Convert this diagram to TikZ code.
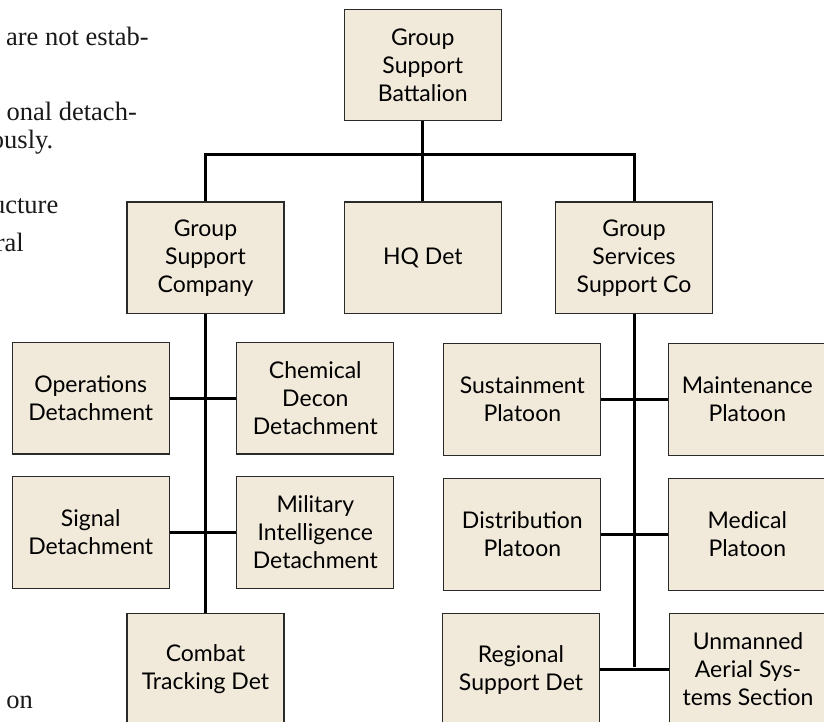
\documentclass[tikz,border=0pt]{standalone}
\usepackage{fontspec}
\newfontfamily\boxfam{Lato}
\newfontfamily\textfam{Liberation Serif}
\definecolor{boxfill}{HTML}{F1E9DA}
\definecolor{boxline}{HTML}{2A2A2A}
\begin{document}
\begin{tikzpicture}[x=1pt,y=-1pt,
  box/.style={draw=boxline, fill=boxfill, line width=1.1pt, minimum width=157pt,
    minimum height=111.5pt, align=center, inner sep=0pt,
    font=\boxfam\fontsize{23}{28}\selectfont},
  link/.style={line width=3pt, black},
  pagetext/.style={anchor=base east, inner sep=0pt, font=\textfam\fontsize{26.5}{28}\selectfont, text=black!90}]
\useasboundingbox (0,0) rectangle (824,722);
\clip (0,0) rectangle (824,722);
% page text cut off at left
\node[pagetext] (t1) at (149,46) {are not estab-};
\node[pagetext] (t2) at (137,120.5) {onal detach-};
\node[pagetext] (t3) at (53.5,148.5) {ously.};
\node[pagetext] (t4) at (58.5,213.5) {ucture};
\node[pagetext] (t5) at (24,251) {ral};
\node[pagetext] (t6) at (33,708) {on};
% boxes
\node[box] (gsb) at (422.75,65) {Group\\Support\\Battalion};
\node[box] (gsc) at (205.5,257.75) {Group\\Support\\Company};
\node[box] (hq) at (422.75,257.75) {HQ Det};
\node[box] (gssc) at (634,257.75) {Group\\Services\\Support Co};
\node[box] (ops) at (90.7,398.2) {Operations\\Detachment};
\node[box] (chem) at (315.3,398.2) {Chemical\\Decon\\Detachment};
\node[box] (sig) at (90.7,532.5) {Signal\\Detachment};
\node[box] (mi) at (315.3,532.5) {Military\\Intelligence\\Detachment};
\node[box] (ctd) at (205.5,669.5) {Combat\\Tracking Det};
\node[box] (sus) at (522.3,399.5) {Sustainment\\Platoon};
\node[box] (mnt) at (747.3,399.5) {Maintenance\\Platoon};
\node[box] (dist) at (522.3,534.5) {Distribution\\Platoon};
\node[box] (med) at (747.3,534.5) {Medical\\Platoon};
\node[box] (reg) at (521,669.5) {Regional\\Support Det};
\node[box] (uas) at (748,669.5) {Unmanned\\Aerial Sys-\\tems Section};
% connectors
\coordinate (bus) at (422.75,155);
\coordinate (rend) at (634,667);
\draw[link] (gsb.south) -- (hq.north);
\draw[link] (gsc.north) |- (bus) -| (gssc.north);
\draw[link] (gsc.south) -- (ctd.north);
\draw[link] (ops.east) -- (chem.west);
\draw[link] (sig.east) -- (mi.west);
\draw[link] (gssc.south) -- (rend);
\draw[link] (sus.east) -- (mnt.west);
\draw[link] (dist.east) -- (med.west);
\draw[link] (reg.east) -- (uas.west);
\end{tikzpicture}
\end{document}
